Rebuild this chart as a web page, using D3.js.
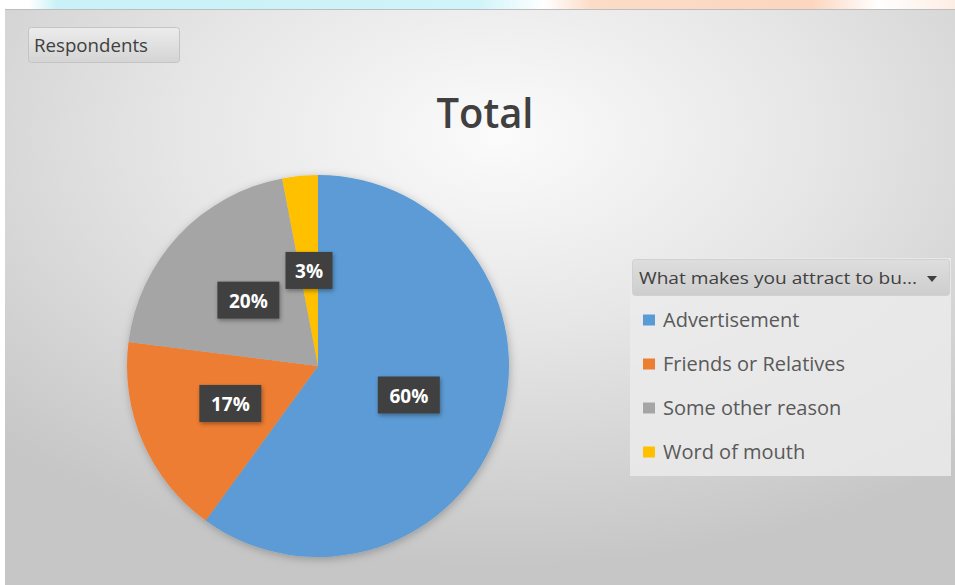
<!DOCTYPE html>
<html><head><meta charset="utf-8">
<script src="https://cdn.jsdelivr.net/npm/d3@7"></script>
<style>html,body{margin:0;padding:0;background:#fff;}svg{display:block;}</style>
</head><body>
<script>
const categories = ["Advertisement", "Friends or Relatives", "Some other reason", "Word of mouth"];
const values = [60, 17, 20, 3];
const colors = ["#5b9bd5", "#ed7d31", "#a5a5a5", "#ffc000"];
const title = "Total";
const filterLabel = "Respondents";
const legendTitle = "What makes you attract to bu...";

const W = 955, H = 585;
const svg = d3.select("body").append("svg").attr("width", W).attr("height", H);
const defs = svg.append("defs");

// top watermark strip
const tg = defs.append("linearGradient").attr("id", "topg");
[[0,"#ffffff"],[0.03,"#ffffff"],[0.06,"#c9f1f7"],[0.5,"#cff4f9"],[0.57,"#ffffff"],[0.62,"#fcdcc6"],[0.85,"#fcd6bf"],[0.92,"#ffffff"],[1,"#fdeee4"]]
  .forEach(([o,c]) => tg.append("stop").attr("offset", o).attr("stop-color", c));
svg.append("rect").attr("x",0).attr("y",0).attr("width",W).attr("height",10).attr("fill","url(#topg)");

// background
const bg = defs.append("radialGradient").attr("id","bgg").attr("cx","0.52").attr("cy","0.22").attr("r","0.75");
bg.append("stop").attr("offset",0).attr("stop-color","#fbfbfb");
bg.append("stop").attr("offset",0.45).attr("stop-color","#e6e6e6");
bg.append("stop").attr("offset",1).attr("stop-color","#c6c6c6");
svg.append("rect").attr("x",5).attr("y",9).attr("width",W-5).attr("height",H-9).attr("fill","url(#bgg)");
svg.append("line").attr("x1",5).attr("x2",W).attr("y1",9.5).attr("y2",9.5).attr("stroke","#bdbdbd");

// filters
const sh = defs.append("filter").attr("id","sh").attr("x","-20%").attr("y","-20%").attr("width","140%").attr("height","140%");
sh.append("feDropShadow").attr("dx",1).attr("dy",2).attr("stdDeviation",4).attr("flood-color","#000").attr("flood-opacity",0.25);
const sh2 = defs.append("filter").attr("id","sh2").attr("x","-30%").attr("y","-30%").attr("width","160%").attr("height","160%");
sh2.append("feDropShadow").attr("dx",1).attr("dy",2).attr("stdDeviation",2).attr("flood-color","#000").attr("flood-opacity",0.35);

// Respondents button
const bgr = defs.append("linearGradient").attr("id","btng").attr("x1",0).attr("x2",0).attr("y1",0).attr("y2",1);
bgr.append("stop").attr("offset",0).attr("stop-color","#ececec");
bgr.append("stop").attr("offset",1).attr("stop-color","#d4d4d4");
svg.append("rect").attr("x",28.5).attr("y",27.5).attr("width",151).attr("height",35).attr("rx",3)
  .attr("fill","url(#btng)").attr("stroke","#c4c4c4");
svg.append("text").attr("x",34).attr("y",52).text(filterLabel)
  .attr("font-family","Open Sans, sans-serif").attr("font-size",17.5).attr("fill","#404040")
  .attr("textLength",114).attr("lengthAdjust","spacingAndGlyphs");

// title
svg.append("text").attr("x",485).attr("y",128).attr("text-anchor","middle").text(title)
  .attr("font-family","Open Sans, sans-serif").attr("font-weight","600").attr("font-size",42).attr("fill","#404040")
  .attr("textLength",97).attr("lengthAdjust","spacingAndGlyphs");

// pie
const cx = 318, cy = 366, R = 191;
const pie = d3.pie().sort(null).value(d => d)(values);
const arc = d3.arc().innerRadius(0).outerRadius(R);
const g = svg.append("g").attr("transform",`translate(${cx},${cy})`);
g.append("g").attr("filter","url(#sh)").selectAll("path").data(pie).enter().append("path")
  .attr("d", arc).attr("fill", (d,i) => colors[i]);

// labels
const lab = g.selectAll("g.lab").data(pie).enter().append("g").attr("class","lab")
  .attr("transform", d => `translate(${arc.centroid(d)})`);
lab.each(function(d){
  const sel = d3.select(this);
  const txt = d.data + "%";
  const w = txt.length === 2 ? 47 : 62;
  sel.append("rect").attr("x",-w/2).attr("y",-19).attr("width",w).attr("height",37)
    .attr("fill","#404040").attr("filter","url(#sh2)");
  sel.append("text").attr("x",0).attr("y",7).attr("text-anchor","middle").text(txt)
    .attr("font-family","Open Sans, sans-serif").attr("font-weight","bold").attr("font-size",19).attr("fill","#ffffff");
});

// legend
const lg = svg.append("g");
lg.append("rect").attr("x",630).attr("y",258).attr("width",321).attr("height",218).attr("fill","#ebebeb").attr("opacity",0.85);
const hg = defs.append("linearGradient").attr("id","hg").attr("x1",0).attr("x2",0).attr("y1",0).attr("y2",1);
hg.append("stop").attr("offset",0).attr("stop-color","#dedede");
hg.append("stop").attr("offset",1).attr("stop-color","#cdcdcd");
lg.append("rect").attr("x",632.5).attr("y",259.5).attr("width",317).attr("height",36).attr("rx",3)
  .attr("fill","url(#hg)").attr("stroke","#d0d0d0");
lg.append("text").attr("x",639).attr("y",284).text(legendTitle)
  .attr("font-family","Open Sans, sans-serif").attr("font-size",17).attr("fill","#404040")
  .attr("textLength",278).attr("lengthAdjust","spacingAndGlyphs");
lg.append("path").attr("d","M927,276 L937,276 L932,282 Z").attr("fill","#404040");
const items = lg.selectAll("g.it").data(categories).enter().append("g").attr("class","it")
  .attr("transform",(d,i)=>`translate(643,${320 + i*44})`);
items.append("rect").attr("x",0).attr("y",-5.5).attr("width",12).attr("height",11).attr("fill",(d,i)=>colors[i]);
items.append("text").attr("x",20).attr("y",7).text(d=>d)
  .attr("font-family","Open Sans, sans-serif").attr("font-size",20).attr("fill","#595959");
</script>
</body></html>
